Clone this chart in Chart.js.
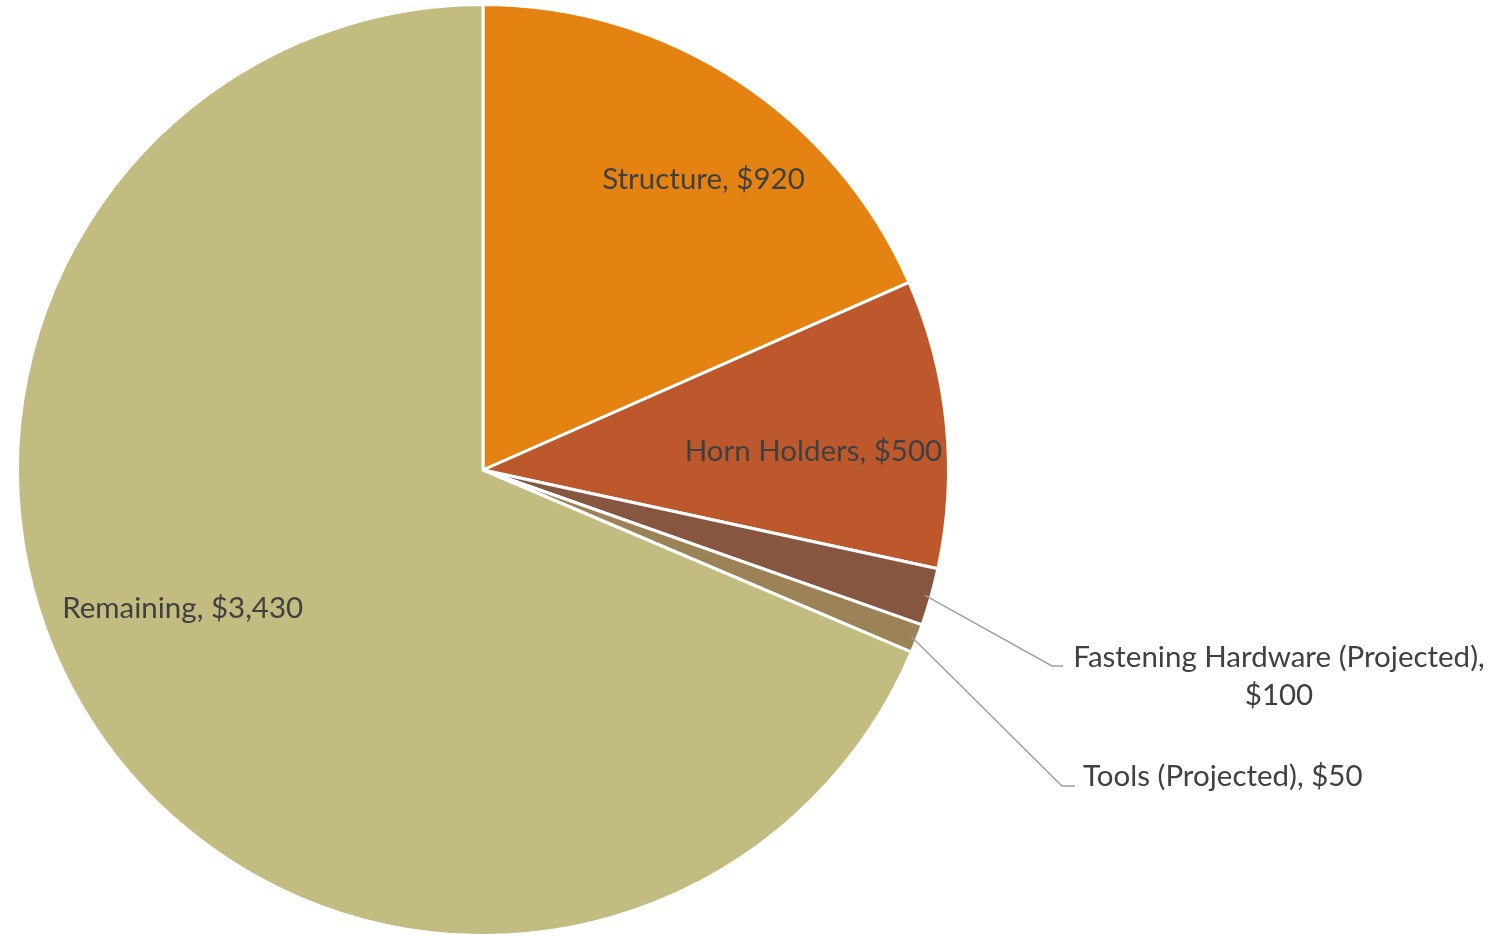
<!DOCTYPE html>
<html>
<head>
<meta charset="utf-8">
<script src="https://cdn.jsdelivr.net/npm/chart.js@4/dist/chart.umd.min.js"></script>
<style>
  html, body { margin: 0; padding: 0; background: #fff; }
  #wrap { width: 1509px; height: 937px; }
</style>
</head>
<body>
<div id="wrap"><canvas id="budgetPie" width="1509" height="937"></canvas></div>
<script>
const categories = ['Structure', 'Horn Holders', 'Fastening Hardware (Projected)', 'Tools (Projected)', 'Remaining'];
const amounts = [920, 500, 100, 50, 3430];
const sliceColors = ['#E48312', '#BD582C', '#865640', '#9B8357', '#C2BC80'];

const money = v => '$' + v.toLocaleString('en-US');
const FONT = '29.5px Lato, "Open Sans", sans-serif';
const TEXT = '#404040';

// where each label sits: inside ones by polar offset from the slice middle,
// outside ones with a leader line out to an elbow
const placement = [
  { inside: true, da: 4.1, f: 0.783 },
  { inside: true, da: 2.5, f: 0.711 },
  { inside: false, elbow: [1052, 666], end: 1063, lines: ['Fastening Hardware (Projected),', '$100'], tx: 1279, ty: 657, center: true },
  { inside: false, elbow: [1062, 786], end: 1075, lines: ['Tools (Projected), $50'], tx: 1083, ty: 776, center: false },
  { inside: true, da: 8.8, f: 0.71 }
];

const sliceLabels = {
  id: 'sliceLabels',
  afterDatasetsDraw(chart) {
    const ctx = chart.ctx;
    const arcs = chart.getDatasetMeta(0).data;
    ctx.save();
    ctx.font = FONT;
    ctx.fillStyle = TEXT;
    ctx.textBaseline = 'middle';
    arcs.forEach((arc, i) => {
      const p = placement[i];
      const mid = (arc.startAngle + arc.endAngle) / 2;
      const r = arc.outerRadius;
      const text = categories[i] + ', ' + money(amounts[i]);
      if (p.inside) {
        const a = mid + p.da * Math.PI / 180;
        ctx.textAlign = 'center';
        ctx.fillText(text, arc.x + Math.cos(a) * r * p.f, arc.y + Math.sin(a) * r * p.f);
      } else {
        const sx = arc.x + Math.cos(mid) * (r - 6);
        const sy = arc.y + Math.sin(mid) * (r - 6);
        ctx.strokeStyle = '#A0A0A0';
        ctx.lineWidth = 1.5;
        ctx.beginPath();
        ctx.moveTo(sx, sy);
        ctx.lineTo(p.elbow[0], p.elbow[1]);
        ctx.lineTo(p.end, p.elbow[1]);
        ctx.stroke();
        ctx.textAlign = p.center ? 'center' : 'left';
        p.lines.forEach((ln, k) => ctx.fillText(ln, p.tx, p.ty + k * 38));
      }
    });
    ctx.restore();
  }
};

new Chart(document.getElementById('budgetPie'), {
  type: 'pie',
  data: {
    labels: categories,
    datasets: [{
      data: amounts,
      backgroundColor: sliceColors,
      borderColor: '#ffffff',
      borderWidth: 3
    }]
  },
  options: {
    responsive: false,
    animation: false,
    layout: { padding: { top: 3, bottom: 0, left: 16, right: 559 } },
    plugins: {
      legend: { display: false },
      tooltip: { enabled: false }
    }
  },
  plugins: [sliceLabels]
});
</script>
</body>
</html>
